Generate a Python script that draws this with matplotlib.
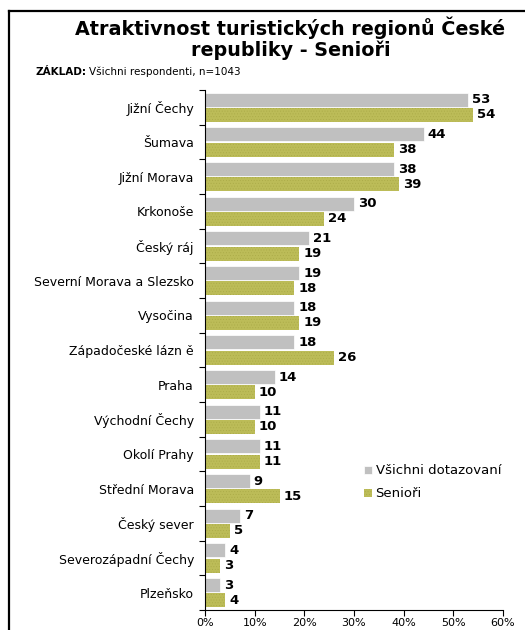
import matplotlib
matplotlib.use("Agg")
import matplotlib.pyplot as plt
from matplotlib.lines import Line2D
import numpy as np

regions = ["Jižní Čechy", "Šumava", "Jižní Morava", "Krkonoše", "Český ráj",
           "Severní Morava a Slezsko", "Vysočina", "Západočeské lázn ě", "Praha",
           "Východní Čechy", "Okolí Prahy", "Střední Morava", "Český sever",
           "Severozápadní Čechy", "Plzeňsko"]
vsichni = [53, 44, 38, 30, 21, 19, 18, 18, 14, 11, 11, 9, 7, 4, 3]
seniori = [54, 38, 39, 24, 19, 18, 19, 26, 10, 10, 11, 15, 5, 3, 4]
x_ticks = [0, 10, 20, 30, 40, 50, 60]
series_names = ["Všichni dotazovaní", "Senioři"]

GRAY = "#c0c0c0"
OLIVE = "#bcbc58"

plt.rcParams["font.family"] = ["DejaVu Sans"]
plt.rcParams["hatch.linewidth"] = 0.3

fig = plt.figure(figsize=(5.25, 6.3), dpi=100)
ax = fig.add_axes([205 / 525, 1 - 610 / 630, (503 - 205) / 525, (610 - 90) / 630])

y = np.arange(len(regions))
h = 0.40
off = 0.22
ax.barh(y - off, vsichni, height=h, color=GRAY, edgecolor="white", linewidth=0.5,
        label=series_names[0])
ax.barh(y + off, seniori, height=h, color=OLIVE, edgecolor="#a9a946", linewidth=0,
        hatch="......", label=series_names[1])

for yi, v in zip(y, vsichni):
    ax.annotate(str(v), (v, yi - off), xytext=(3, 0), textcoords="offset points",
                va="center", ha="left", fontsize=9.5, fontweight="bold")
for yi, v in zip(y, seniori):
    ax.annotate(str(v), (v, yi + off), xytext=(3, 0), textcoords="offset points",
                va="center", ha="left", fontsize=9.5, fontweight="bold")

ax.set_xlim(0, 60)
ax.set_ylim(len(regions) - 0.5, -0.5)
ax.set_xticks(x_ticks)
ax.set_xticklabels([f"{t}%" for t in x_ticks], fontsize=8)
ax.tick_params(axis="x", length=4, width=0.8, pad=2)

# category boundaries carry the ticks, centres carry the labels
ax.set_yticks(np.arange(-0.5, len(regions), 1.0))
ax.set_yticklabels([])
ax.set_yticks(y, minor=True)
ax.set_yticklabels(regions, minor=True, fontsize=9)
ax.tick_params(axis="y", which="major", length=4, width=0.8)
ax.tick_params(axis="y", which="minor", length=0, pad=8)

for s in ["top", "right"]:
    ax.spines[s].set_visible(False)
ax.spines["left"].set_linewidth(0.8)
ax.spines["bottom"].set_linewidth(0.8)

leg = ax.legend(loc="upper left", bbox_to_anchor=(0.515, 0.29), frameon=False,
                fontsize=9.5, handlelength=0.6, handleheight=0.6,
                handletextpad=0.3, labelspacing=0.75, borderaxespad=0)

fig.text(0.553, 1 - 28 / 630, "Atraktivnost turistických regionů České",
         ha="center", va="center", fontsize=13.8, fontweight="bold")
fig.text(0.553, 1 - 50 / 630, "republiky - Senioři",
         ha="center", va="center", fontsize=13.8, fontweight="bold")
t1 = fig.text(35 / 525, 1 - 72 / 630, "ZÁKLAD:", ha="left", va="center",
              fontsize=7.5, fontweight="bold")
fig.canvas.draw()
bb = t1.get_window_extent()
fig.text((bb.x1 + 3) / 525, 1 - 72 / 630, "Všichni respondenti, n=1043",
         ha="left", va="center", fontsize=7.5)

# frame lines
fig.add_artist(Line2D([9 / 525, 9 / 525], [0, 1 - 11 / 630], color="black",
                      linewidth=1.6, transform=fig.transFigure))
fig.add_artist(Line2D([8.5 / 525, 1], [1 - 11 / 630, 1 - 11 / 630], color="black",
                      linewidth=1.6, transform=fig.transFigure))

fig.savefig("out.png", dpi=100)
